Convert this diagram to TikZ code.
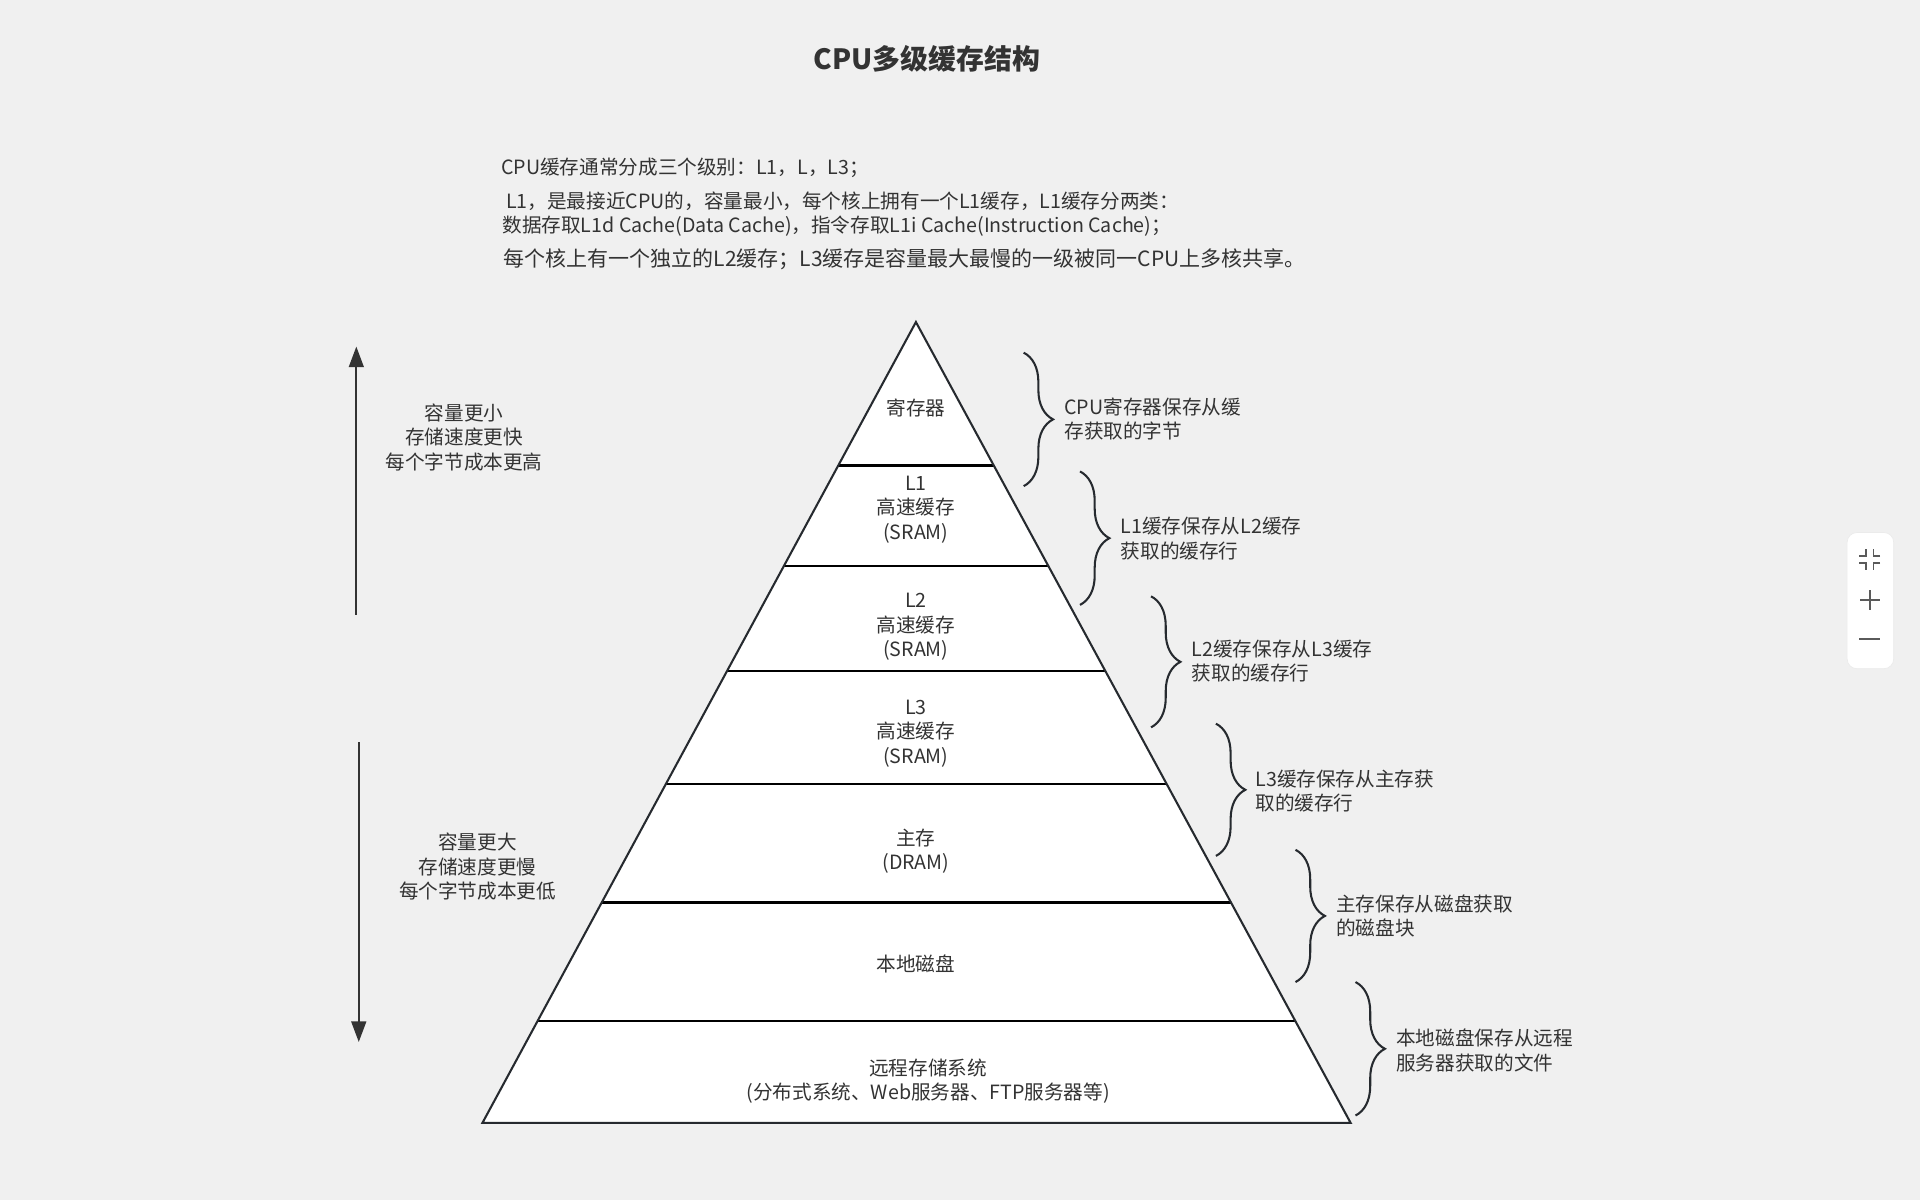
\documentclass[tikz,border=0pt]{standalone}
\usepackage{fontspec}
\setmainfont{Noto Sans CJK SC}
\usetikzlibrary{calc,decorations.pathreplacing,arrows.meta}
\definecolor{bg}{HTML}{F0F0F0}
\definecolor{ink}{HTML}{333333}
\definecolor{edge}{HTML}{262A2F}
\definecolor{icon}{HTML}{5A5A5A}

\begin{document}
\begin{tikzpicture}[x=0.025cm,y=-0.025cm,
  txt/.style={text=ink,font=\fontsize{11.4}{14.2}\selectfont,inner sep=0pt},
  lbl/.style={txt,align=center},
  note/.style={txt,align=left,anchor=west},
  tier/.style={draw=black,line width=1.4pt},
  brc/.style={draw=edge,line width=1.2pt,decorate,decoration={brace,amplitude=0.6cm}},
  sidearrow/.style={draw=ink,line width=1.35pt,-{Triangle[length=0.42cm,width=0.3cm]}},
  ctl/.style={draw=icon,line width=0.9pt}]

% canvas
\fill[bg] (0,0) rectangle (1568,980);
\useasboundingbox (0,0) rectangle (1568,980);

% title
\node[txt,font=\fontsize{16.2}{19}\selectfont\bfseries] (title) at (757,48) {CPU多级缓存结构};

% description
\node[note] (d1) at (409,137) {CPU缓存通常分成三个级别：L1，L，L3；};
\node[note] (d2) at (413,164) {L1，是最接近CPU的，容量最小，每个核上拥有一个L1缓存，L1缓存分两类：};
\node[note] (d3) at (410,185) {数据存取L1d Cache(Data Cache)，指令存取L1i Cache(Instruction Cache)；};
\node[note,font=\fontsize{12.2}{14.6}\selectfont] (d4) at (411,212) {每个核上有一个独立的L2缓存；L3缓存是容量最大最慢的一级被同一CPU上多核共享。};

% pyramid
\coordinate (A) at (748,263);
\coordinate (BL) at (394,917);
\coordinate (BR) at (1103,917);
\fill[white] (A) -- (BL) -- (BR) -- cycle;
\foreach \t in {0.1789,0.3043,0.4358,0.5765,0.7248,0.8731}
  \draw[tier] ($(A)!\t!(BL)$) -- ($(A)!\t!(BR)$);
\draw[draw=edge,line width=1.2pt,line join=miter] (A) -- (BL) -- (BR) -- cycle;

% tier labels
\node[lbl] (reg) at (748,333) {寄存器};
\node[lbl] (l1) at (748,416) {L1\\高速缓存\\(SRAM)};
\node[lbl] (l2) at (748,512) {L2\\高速缓存\\(SRAM)};
\node[lbl] (l3) at (748,599) {L3\\高速缓存\\(SRAM)};
\node[lbl] (mem) at (748,695) {主存\\(DRAM)};
\node[lbl] (disk) at (748,787) {本地磁盘};
\node[lbl] (remote) at (758,883) {远程存储系统\\(分布式系统、Web服务器、FTP服务器等)};

% side arrows
\coordinate (upS) at (291,502);
\coordinate (upE) at (291,283);
\coordinate (dnS) at (293,606);
\coordinate (dnE) at (293,851);
\draw[sidearrow] (upS) -- (upE);
\draw[sidearrow] (dnS) -- (dnE);
\node[lbl] (fast) at (379,357) {容量更小\\存储速度更快\\每个字节成本更高};
\node[lbl] (slow) at (390,708) {容量更大\\存储速度更慢\\每个字节成本更低};

% braces
\coordinate (b1t) at (836,288); \coordinate (b1b) at (836,397);
\coordinate (b2t) at (882,385); \coordinate (b2b) at (882,494);
\coordinate (b3t) at (940,487); \coordinate (b3b) at (940,594);
\coordinate (b4t) at (993,591); \coordinate (b4b) at (993,699);
\coordinate (b5t) at (1058,694); \coordinate (b5b) at (1058,802);
\coordinate (b6t) at (1107,802); \coordinate (b6b) at (1107,911);
\foreach \i in {1,...,6}
  \draw[brc] (b\i t) -- (b\i b);

\node[note] (n1) at (869,342) {CPU寄存器保存从缓\\存获取的字节};
\node[note] (n2) at (915,440) {L1缓存保存从L2缓存\\获取的缓存行};
\node[note] (n3) at (973,540) {L2缓存保存从L3缓存\\获取的缓存行};
\node[note] (n4) at (1025,646) {L3缓存保存从主存获\\取的缓存行};
\node[note] (n5) at (1091,748) {主存保存从磁盘获取\\的磁盘块};
\node[note] (n6) at (1140,858) {本地磁盘保存从远程\\服务器获取的文件};

% zoom control panel
\node[draw=white!92!black,fill=white,rounded corners=0.2cm,minimum width=0.95cm,minimum height=2.78cm,inner sep=0pt] (panel) at (1527.5,490.5) {};
\coordinate (fitc) at (1527,457);
\draw[ctl] ($(fitc)+(-8.5,-3)$) -- ($(fitc)+(-3,-3)$) -- ($(fitc)+(-3,-8.5)$);
\draw[ctl] ($(fitc)+(8.5,-3)$) -- ($(fitc)+(3,-3)$) -- ($(fitc)+(3,-8.5)$);
\draw[ctl] ($(fitc)+(-8.5,3)$) -- ($(fitc)+(-3,3)$) -- ($(fitc)+(-3,8.5)$);
\draw[ctl] ($(fitc)+(8.5,3)$) -- ($(fitc)+(3,3)$) -- ($(fitc)+(3,8.5)$);
\coordinate (plusc) at (1527,490);
\draw[ctl] ($(plusc)+(-8,0)$) -- ($(plusc)+(8,0)$);
\draw[ctl] ($(plusc)+(0,-8)$) -- ($(plusc)+(0,8)$);
\coordinate (minusc) at (1527,522);
\draw[ctl] ($(minusc)+(-8.5,0)$) -- ($(minusc)+(8.5,0)$);
\end{tikzpicture}
\end{document}
